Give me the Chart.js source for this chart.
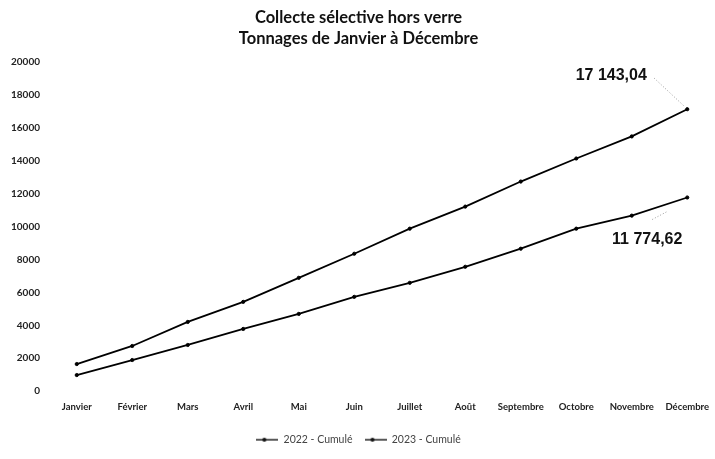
<!DOCTYPE html>
<html><head><meta charset="utf-8">
<script src="https://cdn.jsdelivr.net/npm/chart.js@4/dist/chart.umd.min.js"></script>
<style>html,body{margin:0;padding:0;background:#fff}#w{width:715px;height:459px}</style>
</head><body><div id="w"><canvas id="c" width="715" height="459"></canvas></div>
<script>
const categories = ["Janvier","Février","Mars","Avril","Mai","Juin","Juillet","Août","Septembre","Octobre","Novembre","Décembre"];
const series2022 = [1646,2744,4207,5427,6890,8354,9878,11220,12744,14146,15488,17143.04];
const series2023 = [976,1890,2805,3780,4695,5732,6585,7561,8659,9878,10671,11774.62];
const yTicks = [0,2000,4000,6000,8000,10000,12000,14000,16000,18000,20000];
const endLabels = ["17 143,04","11 774,62"];

function legendMarker(){
  const c = document.createElement('canvas');
  c.width = 22; c.height = 6;
  const x = c.getContext('2d');
  x.strokeStyle = '#222'; x.lineWidth = 1.5;
  x.beginPath(); x.moveTo(0,3); x.lineTo(22,3); x.stroke();
  x.fillStyle = '#111'; x.beginPath(); x.arc(8,3,2,0,Math.PI*2); x.fill();
  return c;
}
const marker = legendMarker();

const labelPlugin = {
  id:'endLabels',
  afterDatasetsDraw(chart){
    const ctx = chart.ctx;
    const xs = chart.scales.x, ys = chart.scales.y;
    const last = categories.length-1;
    const conf = [
      {ds:0, dx:-76, dy:-34, lx1:-33, ly1:-31, lx2:-3, ly2:-3},
      {ds:1, dx:-40, dy:42, lx1:-35, ly1:22, lx2:-20, ly2:14}
    ];
    ctx.save();
    conf.forEach(c=>{
      const v = chart.data.datasets[c.ds].data[last];
      const px = xs.getPixelForValue(last), py = ys.getPixelForValue(v);
      ctx.strokeStyle='#999'; ctx.lineWidth=1; ctx.setLineDash([1,2]);
      ctx.beginPath(); ctx.moveTo(px+c.lx1,py+c.ly1); ctx.lineTo(px+c.lx2,py+c.ly2); ctx.stroke();
      ctx.setLineDash([]);
      ctx.fillStyle='#111'; ctx.font='bold 16px "Liberation Sans", Arial, sans-serif';
      ctx.textAlign='center'; ctx.textBaseline='middle';
      ctx.fillText(endLabels[c.ds], px+c.dx, py+c.dy);
    });
    ctx.restore();
  }
};

new Chart(document.getElementById('c'),{
  type:'line',
  data:{labels:categories,datasets:[
    {label:'2022 - Cumulé',data:series2022,borderColor:'#000',backgroundColor:'#000',borderWidth:1.8,pointRadius:1.6,pointBackgroundColor:'#000',pointBorderWidth:1,pointStyle:'circle',tension:0,clip:false},
    {label:'2023 - Cumulé',data:series2023,borderColor:'#000',backgroundColor:'#000',borderWidth:1.8,pointRadius:1.6,pointBackgroundColor:'#000',pointBorderWidth:1,pointStyle:'circle',tension:0,clip:false}
  ]},
  options:{
    responsive:false,animation:false,
    layout:{autoPadding:false,padding:{left:2,right:0,top:2,bottom:4}},
    plugins:{
      title:{display:true,text:['Collecte sélective hors verre','Tonnages de Janvier à Décembre'],color:'#111',
        font:{family:'Lato, sans-serif',size:16.5,weight:'bold',lineHeight:1.28},padding:{top:5,bottom:13}},
      legend:{position:'bottom',labels:{color:'#444',font:{family:'Lato, sans-serif',size:10.5},usePointStyle:true,pointStyleWidth:22,padding:12,
        generateLabels(chart){
          return chart.data.datasets.map((d,i)=>({text:d.label,pointStyle:marker,fillStyle:'#000',strokeStyle:'#000',lineWidth:0,hidden:false,datasetIndex:i,fontColor:'#444'}));
        }}},
      tooltip:{enabled:false}
    },
    scales:{
      x:{offset:true,grid:{display:false,drawTicks:false},border:{display:false},
        afterFit(s){s.paddingLeft=0;s.paddingRight=0;},
        ticks:{color:'#222',font:{family:'Lato, sans-serif',size:9.5,weight:'bold'},maxRotation:0,autoSkip:false,padding:10}},
      y:{min:0,max:20000,afterBuildTicks(s){s.ticks=yTicks.map(v=>({value:v}));},
        grid:{display:false,drawTicks:false},border:{display:false},
        ticks:{color:'#222',font:{family:'Lato, sans-serif',size:10,weight:'bold'},padding:9,callback:v=>String(v)}}
    }
  },
  plugins:[labelPlugin]
});
</script></body></html>
